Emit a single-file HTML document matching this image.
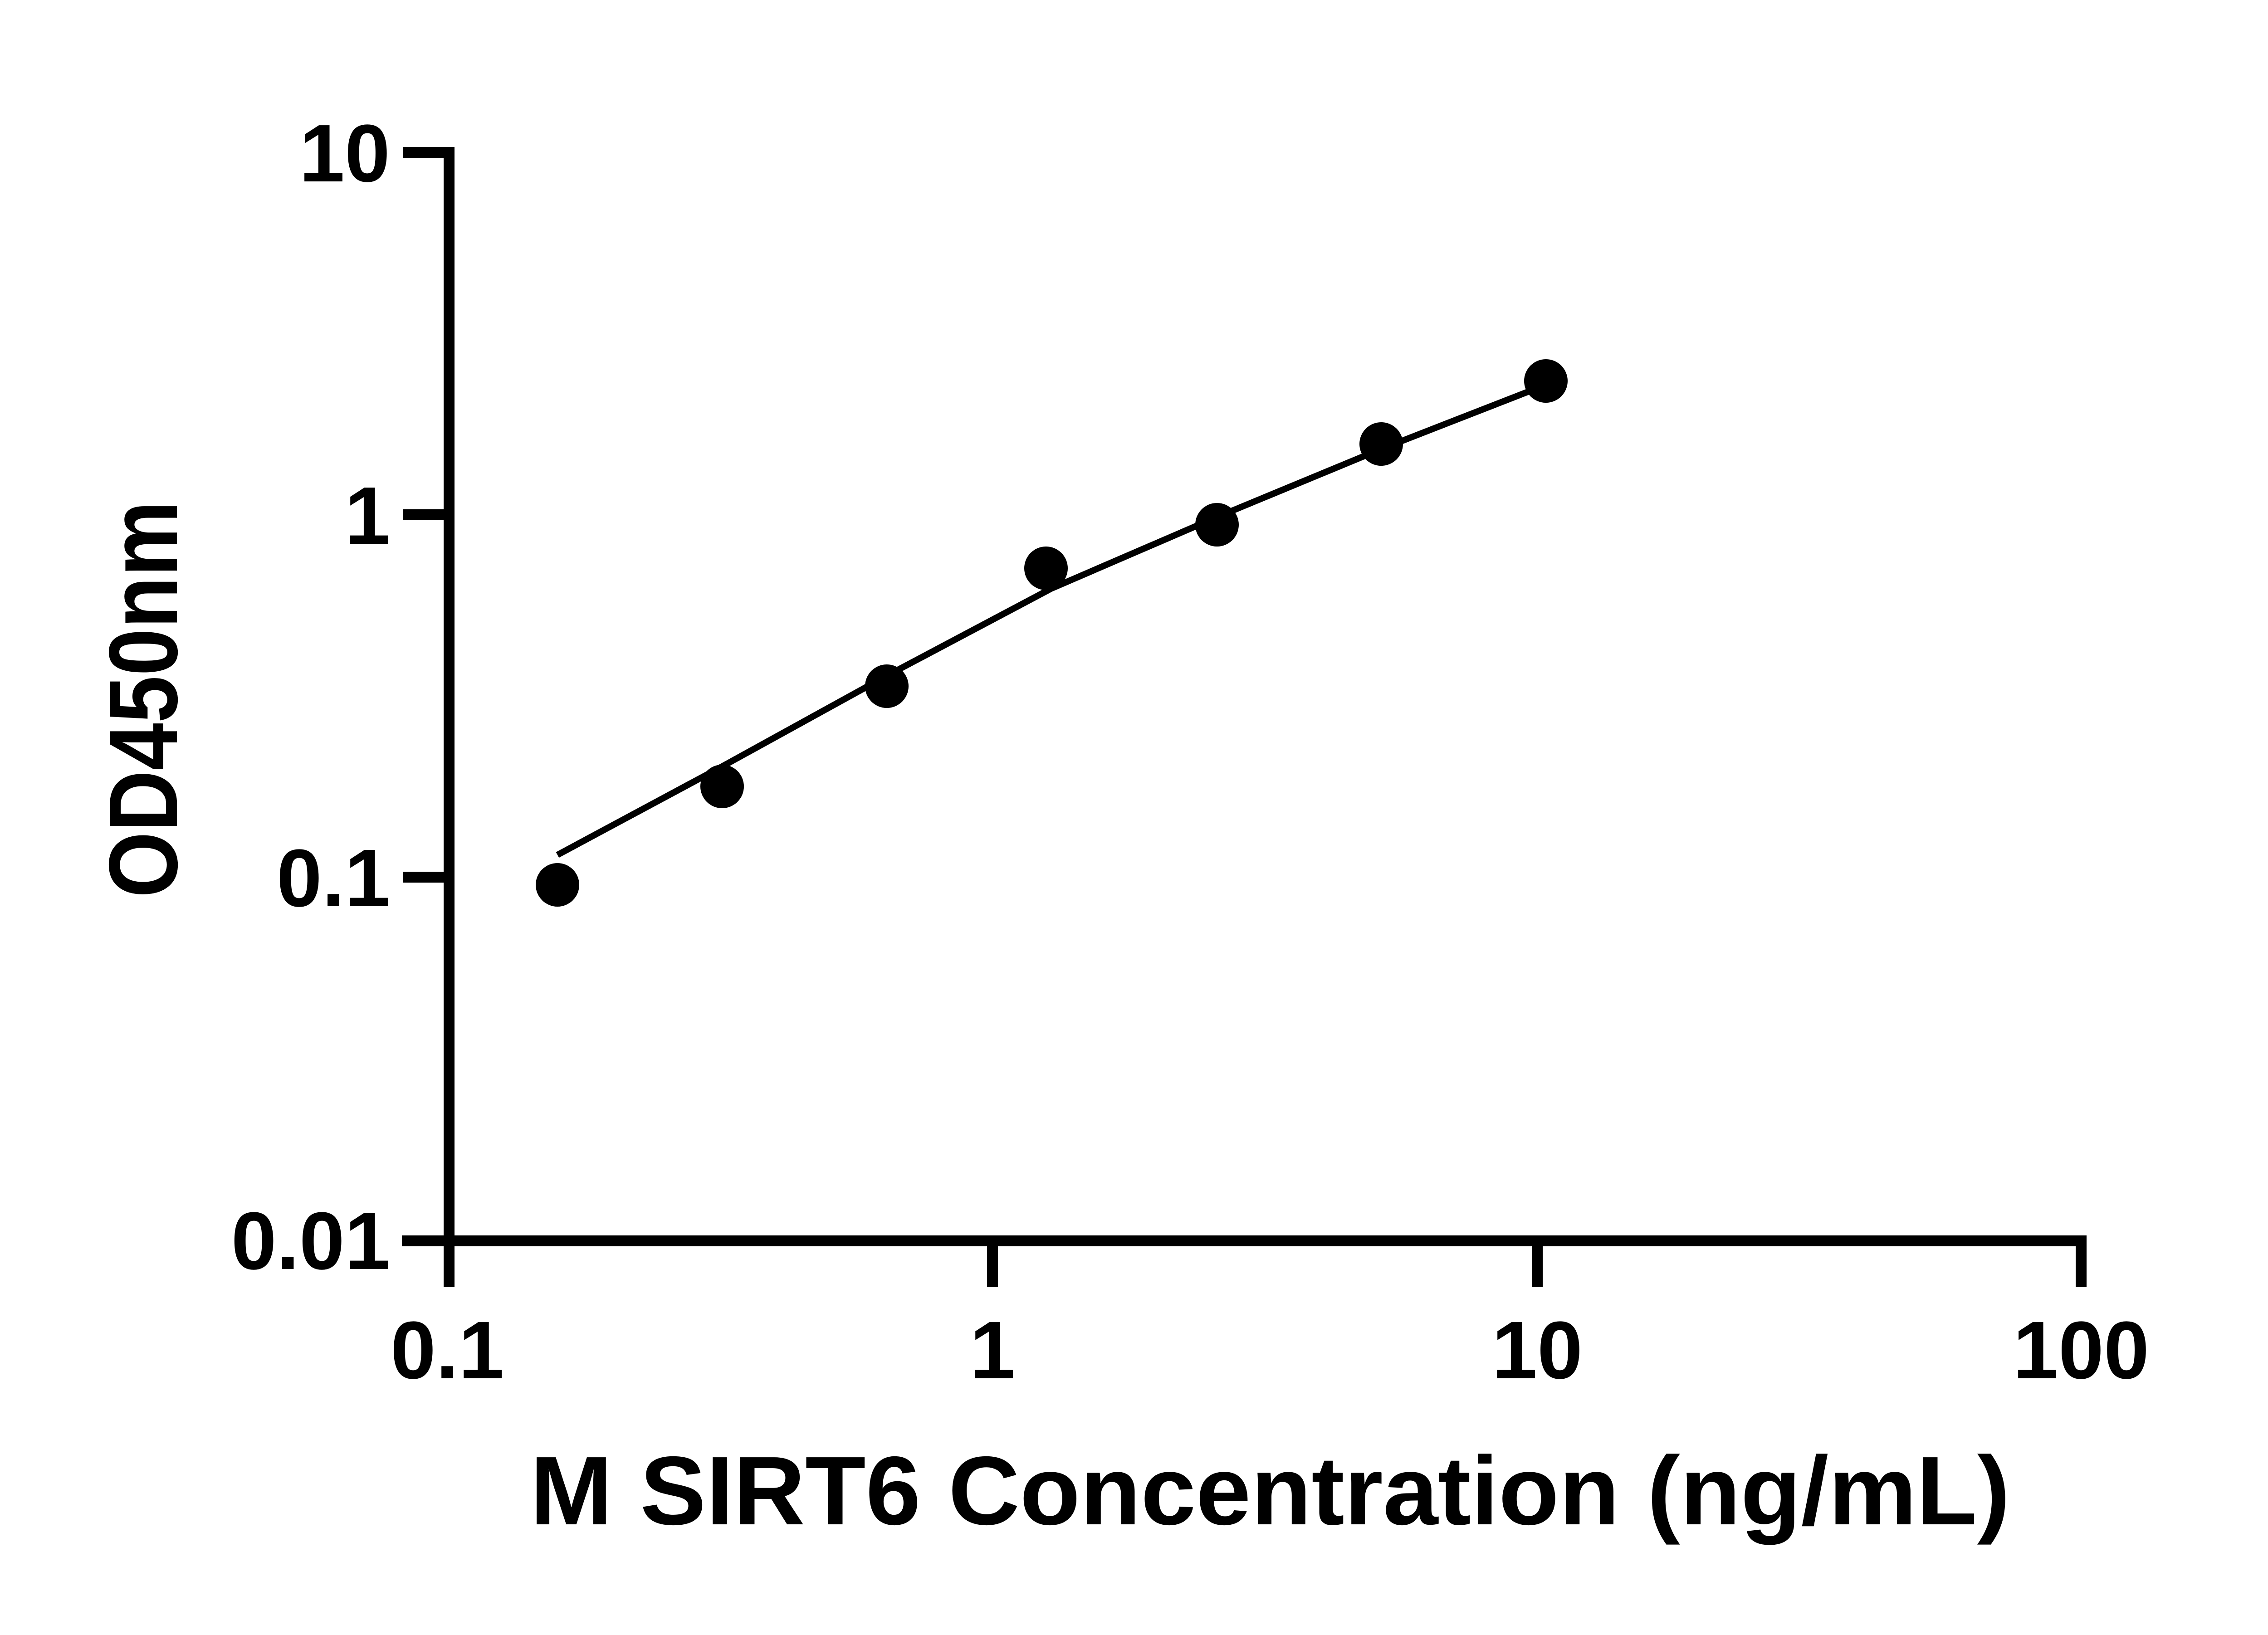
<!DOCTYPE html>
<html><head><meta charset="utf-8"><style>html,body{margin:0;padding:0;background:#fff}</style></head>
<body>
<svg width="5142" height="3600" viewBox="0 0 5142 3600" xmlns="http://www.w3.org/2000/svg">
<rect width="5142" height="3600" fill="#fff"/>
<g stroke="#000" fill="none" stroke-linecap="butt">
<line x1="990" y1="324" x2="990" y2="2838" stroke-width="24"/>
<line x1="886" y1="2736" x2="4600" y2="2736" stroke-width="24"/>
<line x1="888" y1="336" x2="990" y2="336" stroke-width="24"/>
<line x1="888" y1="1135" x2="990" y2="1135" stroke-width="24"/>
<line x1="888" y1="1934" x2="990" y2="1934" stroke-width="24"/>
<line x1="2188" y1="2736" x2="2188" y2="2838" stroke-width="24"/>
<line x1="3389" y1="2736" x2="3389" y2="2838" stroke-width="24"/>
<line x1="4588" y1="2736" x2="4588" y2="2838" stroke-width="24"/>
<polyline stroke-width="14" points="1229,1885 1592,1690 1955,1490 2317,1298 2683,1140 3045,990 3368,864"/>
</g>
<g fill="#000">
<circle cx="1229" cy="1951" r="48"/>
<circle cx="1592" cy="1734" r="48"/>
<circle cx="1955" cy="1513" r="48"/>
<circle cx="2306" cy="1253" r="48"/>
<circle cx="2683" cy="1157" r="48"/>
<circle cx="3045" cy="979" r="48"/>
<circle cx="3408" cy="840" r="48"/>
</g>
<g font-family="Liberation Sans, sans-serif" font-weight="bold" font-size="180" fill="#000">
<text x="860" y="400" text-anchor="end">10</text>
<text x="860" y="1199" text-anchor="end">1</text>
<text x="860" y="1998" text-anchor="end">0.1</text>
<text x="860" y="2798" text-anchor="end">0.01</text>
<text x="986" y="3039" text-anchor="middle">0.1</text>
<text x="2188" y="3039" text-anchor="middle">1</text>
<text x="3389" y="3039" text-anchor="middle">10</text>
<text x="4588" y="3039" text-anchor="middle">100</text>
<text x="2800" y="3361" text-anchor="middle" font-size="215" textLength="3263" lengthAdjust="spacingAndGlyphs">M SIRT6 Concentration (ng/mL)</text>
<text transform="translate(390,1542) rotate(-90)" text-anchor="middle" font-size="215" textLength="875" lengthAdjust="spacingAndGlyphs">OD450nm</text>
</g>
</svg>
</body></html>
